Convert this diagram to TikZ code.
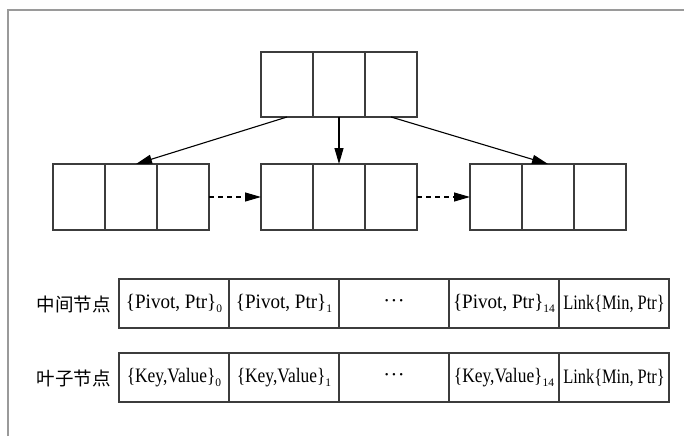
\documentclass[tikz,border=0pt]{standalone}
\usepackage{graphicx}
\usepackage{fontspec}
\setmainfont{Liberation Serif}
\newfontfamily\cellfont{Liberation Serif}
\newfontfamily\cjkfont{Noto Sans CJK SC}
\usetikzlibrary{arrows.meta}
\definecolor{framegray}{HTML}{9A9A9A}
\definecolor{boxgray}{HTML}{3C3C3C}
\newcommand{\sbx}[1]{\raisebox{-4pt}{\fontsize{11.5}{12}\selectfont #1}}
\newcommand{\pv}{\scalebox{0.93}[1]{\{Pivot, Ptr\}}}
\newcommand{\kv}{\scalebox{0.85}[1]{\{Key,Value\}}}
\newcommand{\lk}{\scalebox{0.80}[1]{Link\{Min, Ptr\}}}
\newcommand{\dts}{\strut·\kern0.5pt·\kern0.5pt·}
\begin{document}
\begin{tikzpicture}[x=1pt,y=-1pt,
  cell/.style={draw=boxgray, line width=1.2pt, minimum width=52pt, minimum height=66pt, inner sep=0pt, outer sep=0pt},
  tcell/.style={draw=boxgray, line width=1.1pt, minimum width=110pt, minimum height=49pt, inner sep=0pt, outer sep=0pt, font=\cellfont\fontsize{20.5}{21}\selectfont},
  lbl/.style={anchor=east, inner sep=0pt, font=\cjkfont\fontsize{18.5}{19}\selectfont},
  arr/.style={-{Triangle[length=16pt,width=9pt]}, line width=1.1pt, black},
  darr/.style={arr, dash pattern=on 5pt off 4pt}]
\useasboundingbox (0,0) rectangle (684,436);
\draw[framegray, line width=1.2pt] (8,436) -- (8,10) -- (684,10);
% top node
\node[cell, minimum height=65pt] (t1) at (287,84.5) {};
\node[cell, minimum height=65pt] (t2) at (339,84.5) {};
\node[cell, minimum height=65pt] (t3) at (391,84.5) {};
% middle nodes
\node[cell] (m11) at (79,197) {};
\node[cell] (m12) at (131,197) {};
\node[cell] (m13) at (183,197) {};
\node[cell] (m21) at (287,197) {};
\node[cell] (m22) at (339,197) {};
\node[cell] (m23) at (391,197) {};
\node[cell] (m31) at (496,197) {};
\node[cell] (m32) at (548,197) {};
\node[cell] (m33) at (600,197) {};
% arrows
\draw[arr] (t1.south) -- ([xshift=5pt]m12.north);
\draw[arr] (t2.south) -- (m22.north);
\draw[arr] (t3.south) -- (m32.north);
\draw[darr] (m13.east) -- (m21.west);
\draw[darr] (m23.east) -- (m31.west);
% table rows
\node[tcell] (a1) at (174,303.5) {\pv\sbx{0}};
\node[tcell] (a2) at (284,303.5) {\pv\sbx{1}};
\node[tcell] (a3) at (394,303.5) {\dts};
\node[tcell] (a4) at (504,303.5) {\pv\sbx{14}};
\node[tcell] (a5) at (614,303.5) {\lk};
\node[tcell] (b1) at (174,377.5) {\kv\sbx{0}};
\node[tcell] (b2) at (284,377.5) {\kv\sbx{1}};
\node[tcell] (b3) at (394,377.5) {\dts};
\node[tcell] (b4) at (504,377.5) {\kv\sbx{14}};
\node[tcell] (b5) at (614,377.5) {\lk};
\node[lbl] (la) at (111,304) {中间节点};
\node[lbl] (lb) at (111,378) {叶子节点};
\end{tikzpicture}
\end{document}
